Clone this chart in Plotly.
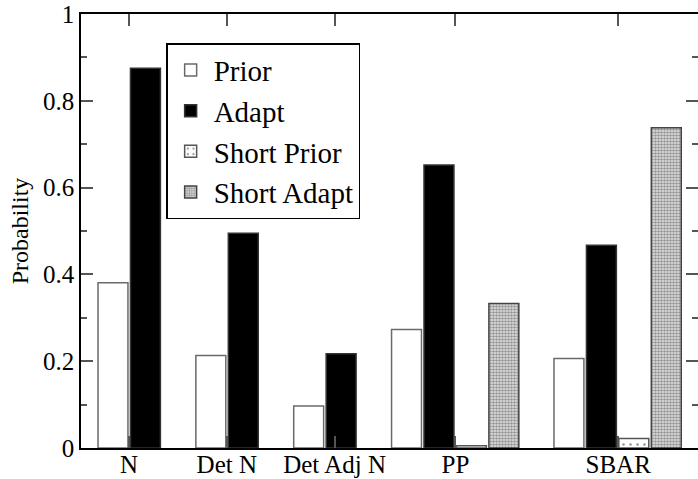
import plotly.graph_objects as go

categories = ["N", "Det N", "Det Adj N", "PP", "SBAR"]
group_pos = [1.0, 2.0, 3.0, 4.0, 5.66]
label_pos = [0.653, 1.653, 2.755, 3.99, 5.653]

prior = [0.381, 0.213, 0.097, 0.273, 0.206]
adapt = [0.875, 0.495, 0.217, 0.652, 0.467]
short_prior = [None, None, None, 0.005, 0.022]
short_adapt = [None, None, None, 0.333, 0.738]

slot = 0.3316
bw = 0.306
first = -0.663
font = "Liberation Serif, Times New Roman, Times, serif"

fig = go.Figure()
series = [
    ("Prior", prior, dict(color="white", line=dict(color="#6a6a6a", width=1.5))),
    ("Adapt", adapt, dict(color="black", line=dict(color="#333333", width=1.5))),
    ("Short Prior", short_prior, dict(color="white", line=dict(color="#555555", width=1.5),
                                      pattern=dict(shape=".", fgcolor="#333333", bgcolor="white",
                                                   size=7, solidity=0.12))),
    ("Short Adapt", short_adapt, dict(color="#cccccc", line=dict(color="#444444", width=1.5),
                                      pattern=dict(shape=".", fgcolor="#444444", bgcolor="#e6e6e6",
                                                   size=3, solidity=0.55))),
]
for i, (name, vals, marker) in enumerate(series):
    fig.add_trace(go.Bar(
        name=name, x=group_pos, y=vals,
        offset=first + i * slot, width=bw,
        marker=marker,
    ))

fig.update_layout(
    width=698, height=479,
    margin=dict(l=81, r=0, t=14, b=31, autoexpand=False),
    barmode="overlay",
    plot_bgcolor="white", paper_bgcolor="white",
    font=dict(family=font, size=25, color="black"),
    showlegend=True,
    legend=dict(x=0.138, y=0.933, xanchor="left", yanchor="top",
                bgcolor="white", bordercolor="black", borderwidth=1.5,
                font=dict(family=font, size=29, color="black"),
                tracegroupgap=0, itemwidth=36),
)
fig.update_xaxes(
    range=[0.163, 6.469], automargin=False,
    tickvals=label_pos, ticktext=categories,
    ticks="inside", ticklen=12, tickcolor="#555555", tickwidth=1.5,
    showline=True, linecolor="black", linewidth=1.5, mirror="ticks",
    showgrid=False, zeroline=False,
    tickfont=dict(family=font, size=25),
    ticklabelstandoff=-7,
)
fig.update_yaxes(
    range=[0, 1], dtick=0.2, tick0=0, automargin=False,
    ticks="inside", ticklen=12, tickcolor="#555555", tickwidth=1.5,
    minor=dict(dtick=0.1, ticks="inside", ticklen=6, tickcolor="#555555", tickwidth=1.5, showgrid=False),
    showline=True, linecolor="black", linewidth=1.5, mirror="ticks",
    showgrid=False, zeroline=False,
    tickfont=dict(family=font, size=25),
    title=dict(text="Probability", font=dict(family=font, size=24), standoff=8),
)

fig.write_html("out.html", config={"displayModeBar": False},
               post_script="document.body.style.margin='0';document.body.style.padding='0';")
